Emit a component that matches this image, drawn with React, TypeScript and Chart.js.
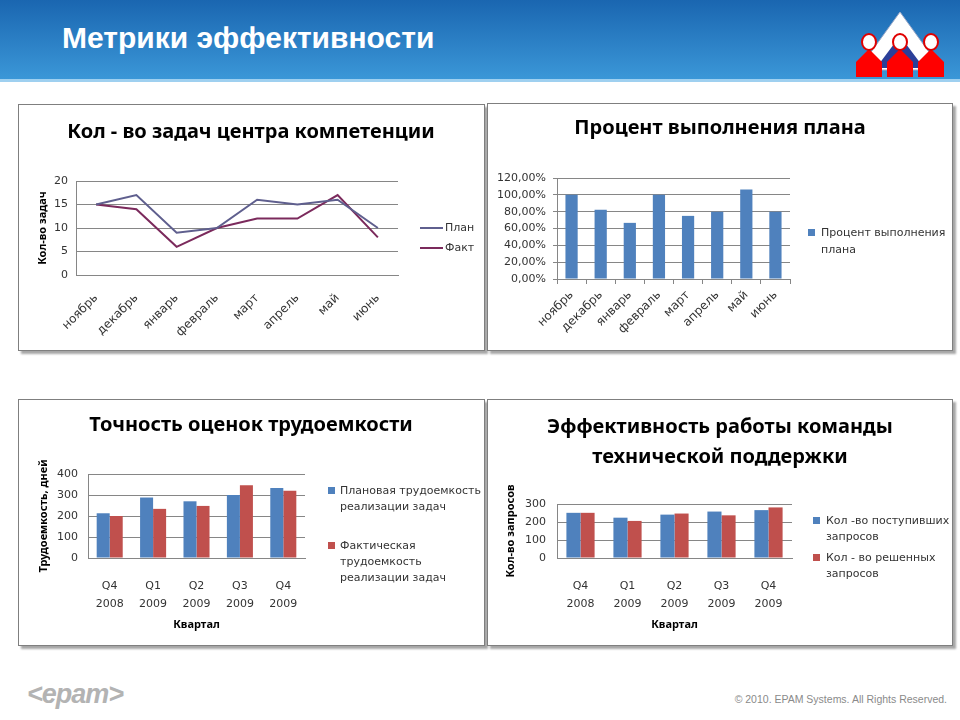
import React, { useEffect, useRef } from "react";
import { Chart, registerables } from "chart.js";

Chart.register(...registerables);

// ---------- data ----------
const months = ["ноябрь", "декабрь", "январь", "февраль", "март", "апрель", "май", "июнь"];
const planTasks = [15, 17, 9, 10, 16, 15, 16, 10];
const factTasks = [15, 14, 6, 10, 12, 12, 17, 8];
const planPercent = [100, 82.4, 66.7, 100, 75, 80, 106.3, 80];
const quarters = [["Q4", "2008"], ["Q1", "2009"], ["Q2", "2009"], ["Q3", "2009"], ["Q4", "2009"]];
const plannedEffort = [213, 288, 270, 300, 333];
const actualEffort = [200, 234, 248, 347, 320];
const receivedRequests = [251, 224, 241, 258, 266];
const resolvedRequests = [251, 206, 247, 237, 281];

const chart1Title = ["Кол - во задач центра компетенции"];
const chart2Title = ["Процент выполнения плана"];
const chart3Title = ["Точность оценок трудоемкости"];
const chart4Title = ["Эффективность работы команды", "технической поддержки"];
const lineLegend = [["План"], ["Факт"]];
const percentLegend = [["Процент выполнения", "плана"]];
const effortLegend = [["Плановая трудоемкость", "реализации задач"], ["Фактическая", "трудоемкость", "реализации задач"]];
const requestLegend = [["Кол -во поступивших", "запросов"], ["Кол - во решенных", "запросов"]];

// ---------- style ----------
const TICK_FONT = "DejaVu Sans";
const TITLE_FONT = "Noto Sans";
const GRID = "#868686";
const BLUE = "#4f81bd";
const RED = "#c0504d";
const PLAN_LINE = "#5f5f8e";
const FACT_LINE = "#7b2a5c";

const decorPlugin = {
  id: "decor",
  afterDraw(chart: any, _args: any, opts: any) {
    const ctx = chart.ctx as CanvasRenderingContext2D;
    ctx.save();
    ctx.fillStyle = "#000";
    ctx.textBaseline = "middle";
    ctx.textAlign = "center";
    ctx.font = `bold 20px "${TITLE_FONT}"`;
    (opts.title || []).forEach((t: string, i: number) => ctx.fillText(t, opts.titleX, opts.titleY[i]));
    ctx.textAlign = "left";
    ctx.font = `11px "${TICK_FONT}"`;
    const lg = opts.legend;
    chart.data.datasets.forEach((ds: any, i: number) => {
      const y0 = lg.y[i];
      const color = lg.type === "line" ? ds.borderColor : ds.backgroundColor;
      if (lg.type === "line") {
        ctx.strokeStyle = color;
        ctx.lineWidth = 2;
        ctx.beginPath();
        ctx.moveTo(lg.symX, y0);
        ctx.lineTo(lg.symX + 23, y0);
        ctx.stroke();
      } else {
        ctx.fillStyle = color;
        ctx.fillRect(lg.symX, y0 - 4, 7, 7);
      }
      ctx.fillStyle = "#333";
      (lg.lines[i] as string[]).forEach((ln, j) => ctx.fillText(ln, lg.textX, y0 + j * lg.lineH));
    });
    ctx.restore();
  },
};

const tickFont = { family: TICK_FONT, size: 11 };
const rotatedFont = { family: TICK_FONT, size: 12 };
const axisTitleFont = { family: TITLE_FONT, size: 11, weight: "bold" as const };

function chart1Config(): any {
  return {
    type: "line",
    data: {
      labels: months,
      datasets: [
        { label: lineLegend[0][0], data: planTasks, borderColor: PLAN_LINE, borderWidth: 2, pointRadius: 0, tension: 0, fill: false },
        { label: lineLegend[1][0], data: factTasks, borderColor: FACT_LINE, borderWidth: 2, pointRadius: 0, tension: 0, fill: false },
      ],
    },
    options: {
      responsive: false,
      animation: false,
      layout: { padding: { left: 13, top: 76, right: 86, bottom: 10 } },
      plugins: {
        legend: { display: false },
        title: { display: false },
        tooltip: { enabled: false },
        decor: {
          title: chart1Title, titleX: 232, titleY: [27],
          legend: { type: "line", symX: 401, textX: 426, lineH: 16, y: [123, 143], lines: lineLegend },
        },
      },
      scales: {
        x: {
          offset: true,
          grid: { display: false },
          border: { display: true, color: GRID },
          ticks: { autoSkip: false, minRotation: 45, maxRotation: 45, padding: 8, font: rotatedFont, color: "#333" },
          afterFit: (s: any) => { s.height = 65; },
        },
        y: {
          min: 0, max: 20,
          ticks: { stepSize: 5, padding: 8, font: tickFont, color: "#333" },
          grid: { color: GRID, drawTicks: false },
          border: { display: true, color: GRID },
          title: { display: true, text: "Кол-во задач", font: axisTitleFont, color: "#000", padding: { top: 4, bottom: 0 } },
          afterFit: (s: any) => { s.width = 44; },
        },
      },
    },
    plugins: [decorPlugin],
  };
}

function chart2Config(): any {
  return {
    type: "bar",
    data: {
      labels: months,
      datasets: [
        { label: percentLegend[0].join(" "), data: planPercent, backgroundColor: BLUE, barPercentage: 0.42, categoryPercentage: 1 },
      ],
    },
    options: {
      responsive: false,
      animation: false,
      layout: { padding: { left: 5, top: 74, right: 162, bottom: 5 } },
      plugins: {
        legend: { display: false },
        title: { display: false },
        tooltip: { enabled: false },
        decor: {
          title: chart2Title, titleX: 232, titleY: [24],
          legend: { type: "box", symX: 320, textX: 333, lineH: 17, y: [129], lines: percentLegend },
        },
      },
      scales: {
        x: {
          grid: { display: true, drawOnChartArea: false, drawTicks: true, tickLength: 5, color: GRID },
          border: { display: true, color: GRID },
          ticks: { autoSkip: false, minRotation: 45, maxRotation: 45, padding: 4, font: rotatedFont, color: "#333" },
          afterFit: (s: any) => { s.height = 66; },
        },
        y: {
          min: 0, max: 120,
          ticks: {
            stepSize: 20, padding: 7, font: tickFont, color: "#333",
            callback: (v: any) => Number(v).toFixed(2).replace(".", ",") + "%",
          },
          grid: { color: GRID, drawTicks: true, tickLength: 4 },
          border: { display: true, color: GRID },
          afterFit: (s: any) => { s.width = 64; },
        },
      },
    },
    plugins: [decorPlugin],
  };
}

function groupedConfig(opts: {
  a: number[]; b: number[]; legend: string[][]; title: string[]; titleY: number[];
  yTitle: string; yMax: number; padLeft: number; padTop: number; padRight: number;
  yWidth: number; yPad: number; legendSymX: number; legendTextX: number; legendY: number[];
}): any {
  return {
    type: "bar",
    data: {
      labels: quarters,
      datasets: [
        { label: opts.legend[0].join(" "), data: opts.a, backgroundColor: BLUE, barPercentage: 1, categoryPercentage: 0.6 },
        { label: opts.legend[1].join(" "), data: opts.b, backgroundColor: RED, barPercentage: 1, categoryPercentage: 0.6 },
      ],
    },
    options: {
      responsive: false,
      animation: false,
      layout: { padding: { left: opts.padLeft, top: opts.padTop, right: opts.padRight, bottom: 10 } },
      plugins: {
        legend: { display: false },
        title: { display: false },
        tooltip: { enabled: false },
        decor: {
          title: opts.title, titleX: 232, titleY: opts.titleY,
          legend: { type: "box", symX: opts.legendSymX, textX: opts.legendTextX, lineH: 16, y: opts.legendY, lines: opts.legend },
        },
      },
      scales: {
        x: {
          grid: { display: false },
          border: { display: true, color: GRID },
          ticks: { autoSkip: false, maxRotation: 0, padding: 11, font: { ...tickFont, lineHeight: "18px" }, color: "#333" },
          title: { display: true, text: "Квартал", font: axisTitleFont, color: "#000", padding: { top: 0, bottom: 4 } },
          afterFit: (s: any) => { s.height = 77; },
        },
        y: {
          min: 0, max: opts.yMax,
          ticks: { stepSize: 100, padding: opts.yPad, font: tickFont, color: "#333" },
          grid: { color: GRID, drawTicks: false },
          border: { display: true, color: GRID },
          title: { display: true, text: opts.yTitle, font: axisTitleFont, color: "#000", padding: { top: 4, bottom: 0 } },
          afterFit: (s: any) => { s.width = opts.yWidth; },
        },
      },
    },
    plugins: [decorPlugin],
  };
}

function Panel(props: { left: number; top: number; width: number; height: number; config: () => any }) {
  const ref = useRef<HTMLCanvasElement>(null);
  useEffect(() => {
    const c = new Chart(ref.current as HTMLCanvasElement, props.config());
    return () => c.destroy();
  }, []);
  return (
    <div
      style={{
        position: "absolute", left: props.left, top: props.top, width: props.width, height: props.height,
        border: "1px solid #7f7f7f", background: "#fff", boxShadow: "3px 3px 2px rgba(0,0,0,0.35)",
      }}
    >
      <canvas ref={ref} width={props.width} height={props.height} style={{ display: "block" }} />
    </div>
  );
}

function Logo() {
  const xs = [869, 900, 931];
  return (
    <svg style={{ position: "absolute", left: 850, top: 8 }} width={105} height={72} viewBox="850 8 105 72">
      <polygon points="900,12 942,70 858,70" fill="#ffffff" stroke="#9aa8c8" strokeWidth={1} />
      <polygon points="900,36 924,68 876,68" fill="#2b3f99" />
      {xs.map((x) => (
        <polygon key={"b" + x} points={`${x - 13},77 ${x - 13},62 ${x},49 ${x + 13},62 ${x + 13},77`} fill="#ff0000" />
      ))}
      {xs.map((x) => (
        <ellipse key={"h" + x} cx={x} cy={42} rx={7} ry={8} fill="#ffffff" stroke="#e00000" strokeWidth={2} />
      ))}
    </svg>
  );
}

export default function App() {
  return (
    <div style={{ position: "absolute", left: 0, top: 0, width: 960, height: 720, background: "#fff", overflow: "hidden", fontFamily: "Liberation Sans, Arial, sans-serif" }}>
      <div style={{ position: "absolute", left: 0, top: 0, width: 960, height: 79, background: "linear-gradient(#1a66b0, #3b97d8)" }} />
      <div style={{ position: "absolute", left: 0, top: 79, width: 960, height: 3, background: "#9fd0f0" }} />
      <div style={{ position: "absolute", left: 62, top: 19, color: "#fff", fontWeight: "bold", fontSize: 30, lineHeight: "38px", whiteSpace: "nowrap" }}>
        Метрики эффективности
      </div>
      <Logo />

      <Panel left={18} top={104} width={465} height={245} config={chart1Config} />
      <Panel left={487} top={103} width={464} height={246} config={chart2Config} />
      <Panel
        left={18} top={399} width={465} height={245}
        config={() => groupedConfig({
          a: plannedEffort, b: actualEffort, legend: effortLegend, title: chart3Title, titleY: [25],
          yTitle: "Трудоемкость, дней", yMax: 400, padLeft: 14, padTop: 74, padRight: 179,
          yWidth: 55, yPad: 10, legendSymX: 309, legendTextX: 321, legendY: [91, 146],
        })}
      />
      <Panel
        left={487} top={399} width={464} height={245}
        config={() => groupedConfig({
          a: receivedRequests, b: resolvedRequests, legend: requestLegend, title: chart4Title, titleY: [27, 57],
          yTitle: "Кол-во запросов", yMax: 300, padLeft: 12, padTop: 104, padRight: 160,
          yWidth: 57, yPad: 11, legendSymX: 325, legendTextX: 338, legendY: [121, 158],
        })}
      />

      <div style={{ position: "absolute", left: 27, top: 678, color: "#b3b3b3", fontWeight: "bold", fontStyle: "italic", fontSize: 27, lineHeight: "32px", letterSpacing: -1 }}>
        &lt;epam&gt;
      </div>
      <div style={{ position: "absolute", right: 13, top: 692, color: "#8a8a8a", fontSize: 10.5, lineHeight: "14px", whiteSpace: "nowrap" }}>
        © 2010. EPAM Systems. All Rights Reserved.
      </div>
    </div>
  );
}
